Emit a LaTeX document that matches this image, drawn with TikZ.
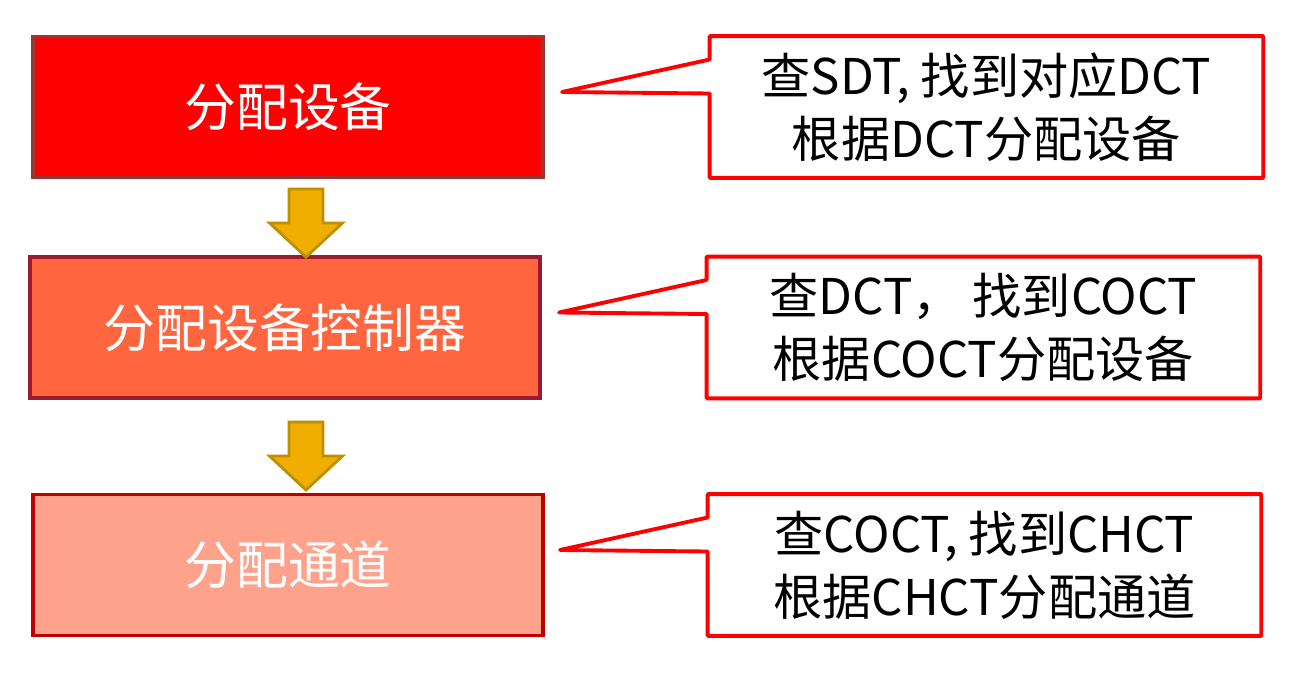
\documentclass[tikz,border=0pt]{standalone}
\usepackage{fontspec}
\newfontfamily\cjk{Noto Sans CJK SC}
\usetikzlibrary{calc,positioning}
\definecolor{stageA}{HTML}{FF0000}
\definecolor{stageB}{HTML}{FF6640}
\definecolor{stageC}{HTML}{FFA28C}
\definecolor{edgeA}{HTML}{953735}
\definecolor{edgeB}{HTML}{9B1B30}
\definecolor{edgeC}{HTML}{C00000}
\definecolor{gold}{HTML}{F0AE00}
\definecolor{goldedge}{HTML}{BF8F00}

\begin{document}
\begin{tikzpicture}[
	stage/.style={
		rectangle, line width=1.8pt, minimum width=10.2cm,
		minimum height=2.82cm, inner sep=0pt, text=white,
		font=\cjk\fontsize{29.5}{34}\selectfont
	},
	note/.style={
		rectangle, minimum width=11.06cm, minimum height=2.82cm,
		inner sep=0pt, align=center,
		font=\cjk\fontsize{28}{36}\selectfont
	},
	outline/.style={draw=red, line width=2.2pt, line join=round},
	blockarrow/.pic={
		\draw[fill=gold, draw=goldedge, line width=1.6pt]
		(-0.34,0) -- (0.34,0) -- (0.34,-0.68) -- (0.73,-0.68)
		-- (0,-1.36) -- (-0.73,-0.68) -- (-0.34,-0.68) -- cycle;
	}
	]
	\useasboundingbox (0,0) rectangle (25.88,-13.56);
	\node[stage, fill=stageA, draw=edgeA] (1) at (5.76,-2.14) {分配设备};
	\node[stage, fill=stageB, draw=edgeB] (2) at (5.70,-6.55) {分配设备控制器};
	\node[stage, fill=stageC, draw=edgeC] (3) at (5.76,-11.30) {分配通道};
	\node[note, right=3.3cm of 1] (n1) {查SDT, 找到对应DCT\\根据DCT分配设备};
	\node[note, right=3.3cm of 2] (n2) {查DCT， 找到COCT\\根据COCT分配设备};
	\node[note, right=3.26cm of 3] (n3) {查COCT, 找到CHCT\\根据CHCT分配通道};
	% callout outlines with their pointers
	\foreach \i in {1,2,3}
	{
		\draw[outline] (n\i.north west) -- (n\i.north east) -- (n\i.south east)
		-- (n\i.south west) -- ($(n\i.west)+(0,0.27)$)
		-- ($(n\i.west)+(-2.95,0.3)$) -- ($(n\i.west)+(0,0.95)$) -- cycle;
	}
	\pic at (6.12,-3.78) {blockarrow};
	\pic at (6.12,-8.44) {blockarrow};
\end{tikzpicture}
\end{document}
